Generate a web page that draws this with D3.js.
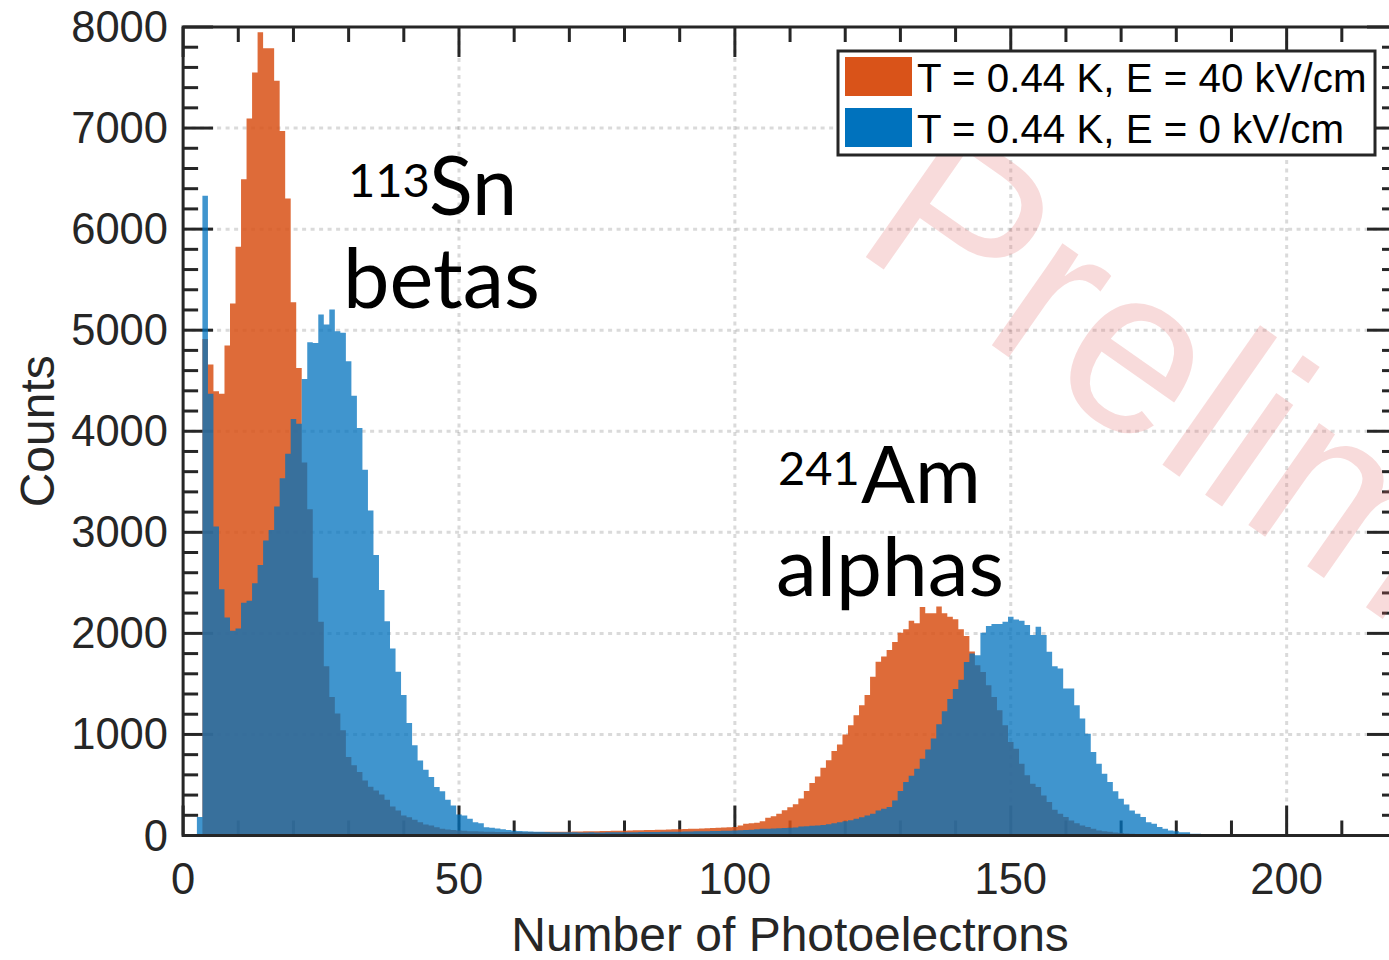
<!DOCTYPE html>
<html>
<head>
<meta charset="utf-8">
<script src="https://cdn.jsdelivr.net/npm/d3@7"></script>
<style>
html,body{margin:0;padding:0;background:#fff;overflow:hidden}
svg{display:block}
</style>
</head>
<body>
<svg id="chart" width="1389" height="960"></svg>
<script>
// ---------------- data ----------------
// histogram bins are 1 photoelectron wide, centred on integers starting at firstBin
const firstBin = 1;
const binWidth = 1;

// T = 0.44 K, E = 40 kV/cm  (bins 1..195)
const countsField40 = [
  0, 0, 0, 4914, 4660, 4395, 4372, 4848, 5265, 5826,
  6493, 7095, 7551, 7948, 7789, 7789, 7468, 6972, 6302, 5277,
  4626, 3691, 3229, 2550, 2115, 1675, 1371, 1206, 1041, 776,
  694, 628, 545, 482, 446, 406, 354, 287, 248, 198,
  181, 156, 132, 109, 99, 82, 66, 60, 55, 50,
  46, 43, 41, 39, 37, 36, 35, 35, 34, 34,
  34, 33, 34, 35, 35, 36, 36, 37, 38, 38,
  39, 40, 41, 42, 43, 44, 45, 46, 47, 48,
  50, 51, 53, 54, 55, 57, 58, 60, 61, 63,
  64, 66, 68, 70, 72, 74, 77, 80, 82, 85,
  99, 116, 120, 125, 140, 175, 190, 215, 250, 280,
  310, 365, 440, 520, 585, 670, 745, 835, 900, 1000,
  1090, 1190, 1290, 1390, 1570, 1720, 1770, 1835, 1915, 2005,
  2040, 2125, 2100, 2260, 2200, 2200, 2265, 2200, 2165, 2140,
  2040, 1973, 1820, 1685, 1619, 1487, 1371, 1239, 1090, 925,
  859, 711, 595, 512, 479, 397, 331, 254, 215, 182,
  149, 122, 99, 83, 66, 50, 43, 36, 30, 25,
  20, 17, 14, 12, 10, 8, 6, 5, 4, 3,
  2, 2, 1, 1, 1, 1, 0, 0, 0, 0,
  0, 0, 0, 0, 0
];

// T = 0.44 K, E = 0 kV/cm  (bins 1..195)
const countsField0 = [
  0, 0, 182, 6330, 4372, 3057, 2436, 2158, 2025, 2049,
  2303, 2323, 2495, 2677, 2918, 3024, 3255, 3536, 3777, 4121,
  4074, 4517, 4880, 4874, 5155, 5056, 5204, 4990, 4974, 4692,
  4352, 4032, 3618, 3215, 2776, 2430, 2120, 1850, 1620, 1390,
  1113, 892, 743, 651, 578, 479, 439, 354, 297, 208,
  198, 165, 132, 122, 82, 76, 70, 62, 55, 48,
  45, 42, 40, 38, 36, 35, 33, 33, 32, 32,
  31, 30, 30, 31, 30, 30, 31, 31, 32, 32,
  33, 33, 34, 34, 35, 35, 36, 37, 38, 38,
  39, 40, 41, 42, 43, 44, 45, 47, 48, 50,
  52, 55, 58, 62, 66, 68, 70, 72, 74, 76,
  80, 89, 92, 96, 99, 105, 112, 122, 132, 142,
  152, 165, 180, 198, 215, 248, 264, 281, 347, 440,
  530, 590, 660, 760, 850, 960, 1100, 1230, 1350, 1450,
  1540, 1718, 1800, 1784, 2006, 2072, 2092, 2092, 2115, 2164,
  2138, 2125, 2082, 1983, 2065, 1983, 1817, 1675, 1652, 1454,
  1454, 1289, 1157, 1008, 826, 711, 611, 529, 439, 363,
  307, 248, 215, 182, 132, 116, 83, 66, 50, 43,
  33, 33, 17, 17, 10, 8, 5, 4, 3, 2,
  1, 1, 0, 0, 0
];

const seriesNames = ["T = 0.44 K, E = 40 kV/cm", "T = 0.44 K, E = 0 kV/cm"];
const seriesColors = ["#D95319", "#0072BD"];
const seriesAlpha = [0.86, 0.75];

const xDomain = [0, 220];
const yDomain = [0, 8000];
const xTickValues = [0, 50, 100, 150, 200];
const yTickValues = [0, 1000, 2000, 3000, 4000, 5000, 6000, 7000, 8000];
const xMinorStep = 10;
const yMinorStep = 200;

const xTitle = "Number of Photoelectrons";
const yTitle = "Counts";
const watermarkText = "Preliminary";

// ---------------- drawing ----------------
const svg = d3.select("#chart");
const axisColor = "#262626";
const x = d3.scaleLinear().domain(xDomain).range([183.1, 1397]);
const y = d3.scaleLinear().domain(yDomain).range([835.5, 27]);

svg.append("rect").attr("width", 1389).attr("height", 960).attr("fill", "#fff");

// grid (behind data)
const grid = svg.append("g").attr("stroke", axisColor).attr("stroke-opacity", 0.17)
  .attr("stroke-width", 3).attr("stroke-dasharray", "4,4.5");
grid.selectAll("line.gx").data(xTickValues.filter(v => v > xDomain[0] && v < xDomain[1]))
  .join("line").attr("class", "gx")
  .attr("x1", d => x(d)).attr("x2", d => x(d))
  .attr("y1", y(yDomain[0])).attr("y2", y(yDomain[1]));
grid.selectAll("line.gy").data(yTickValues.filter(v => v > yDomain[0] && v < yDomain[1]))
  .join("line").attr("class", "gy")
  .attr("y1", d => y(d)).attr("y2", d => y(d))
  .attr("x1", x(xDomain[0])).attr("x2", x(xDomain[1]));

// ticks (inward, mirrored, behind data)
const ticks = svg.append("g").attr("stroke", axisColor).attr("stroke-width", 3);
const xTicksAll = d3.range(xDomain[0], xDomain[1] + 0.001, xMinorStep);
const yTicksAll = d3.range(yDomain[0], yDomain[1] + 0.001, yMinorStep);
const isXMajor = v => xTickValues.includes(v);
const isYMajor = v => yTickValues.includes(v);
const majorLen = 30, minorLen = 15;
xTicksAll.forEach(v => {
  const L = isXMajor(v) ? majorLen : minorLen;
  ticks.append("line").attr("x1", x(v)).attr("x2", x(v)).attr("y1", y(0)).attr("y2", y(0) - L);
  ticks.append("line").attr("x1", x(v)).attr("x2", x(v)).attr("y1", y(8000)).attr("y2", y(8000) + L);
});
yTicksAll.forEach(v => {
  const L = isYMajor(v) ? majorLen : minorLen;
  ticks.append("line").attr("y1", y(v)).attr("y2", y(v)).attr("x1", x(0)).attr("x2", x(0) + L);
  ticks.append("line").attr("y1", y(v)).attr("y2", y(v)).attr("x1", x(220)).attr("x2", x(220) - L);
});

// histogram step areas
function stepData(counts) {
  const pts = counts.map((c, i) => ({ e: firstBin + i * binWidth - binWidth / 2, c: c }));
  pts.push({ e: firstBin + counts.length * binWidth - binWidth / 2, c: counts[counts.length - 1] });
  return pts;
}
const area = d3.area()
  .x(d => x(d.e)).y0(y(0)).y1(d => y(d.c))
  .curve(d3.curveStepAfter);

[countsField40, countsField0].forEach((counts, i) => {
  svg.append("path")
    .datum(stepData(counts))
    .attr("d", area)
    .attr("fill", seriesColors[i])
    .attr("fill-opacity", seriesAlpha[i]);
});

// axes box on top
svg.append("rect")
  .attr("x", x(xDomain[0])).attr("y", y(yDomain[1]))
  .attr("width", x(xDomain[1]) - x(xDomain[0]))
  .attr("height", y(yDomain[0]) - y(yDomain[1]))
  .attr("fill", "none").attr("stroke", axisColor).attr("stroke-width", 3);

// tick labels
const tickFont = "'Liberation Sans', Arial, Helvetica, sans-serif";
svg.append("g").selectAll("text").data(yTickValues).join("text")
  .attr("x", 168).attr("y", d => y(d) + 15)
  .attr("text-anchor", "end")
  .attr("font-family", tickFont).attr("font-size", 43.5).attr("fill", axisColor)
  .text(d => d3.format("d")(d));
svg.append("g").selectAll("text").data(xTickValues).join("text")
  .attr("x", d => x(d)).attr("y", 894)
  .attr("text-anchor", "middle")
  .attr("font-family", tickFont).attr("font-size", 43.5).attr("fill", axisColor)
  .text(d => d3.format("d")(d));

// axis titles
svg.append("text")
  .attr("x", (x(0) + x(220)) / 2).attr("y", 951)
  .attr("text-anchor", "middle")
  .attr("font-family", tickFont).attr("font-size", 48).attr("fill", axisColor)
  .text(xTitle);
svg.append("text")
  .attr("transform", `translate(54,${(y(0) + y(8000)) / 2}) rotate(-90)`)
  .attr("text-anchor", "middle")
  .attr("font-family", tickFont).attr("font-size", 48).attr("fill", axisColor)
  .text(yTitle);

// annotations
const annFont = "Lato, 'Open Sans', sans-serif";
function ann(txt, px, py, size) {
  svg.append("text").attr("x", px).attr("y", py)
    .attr("font-family", annFont).attr("font-size", size).attr("fill", "#000")
    .text(txt);
}
ann("113", 348, 197, 47);
ann("Sn", 429, 215, 81);
ann("betas", 343, 308, 83);
ann("241", 778, 485, 47);
ann("Am", 861, 503, 80);
ann("alphas", 776, 596, 82);

// watermark (under the legend)
svg.append("text")
  .attr("transform", "translate(850,246) rotate(35)")
  .attr("font-family", tickFont).attr("font-size", 235)
  .attr("fill", "#e06868").attr("fill-opacity", 0.24)
  .text(watermarkText);

// legend
const lg = svg.append("g");
lg.append("rect").attr("x", 838).attr("y", 51).attr("width", 537).attr("height", 104)
  .attr("fill", "#fff").attr("stroke", axisColor).attr("stroke-width", 3);
seriesNames.forEach((nm, i) => {
  lg.append("rect").attr("x", 845).attr("y", 57 + i * 51).attr("width", 67).attr("height", 39)
    .attr("fill", seriesColors[i]);
  lg.append("text").attr("x", 917).attr("y", 92 + i * 51)
    .attr("font-family", tickFont).attr("font-size", 40.3).attr("fill", "#000")
    .text(nm);
});
</script>
</body>
</html>
